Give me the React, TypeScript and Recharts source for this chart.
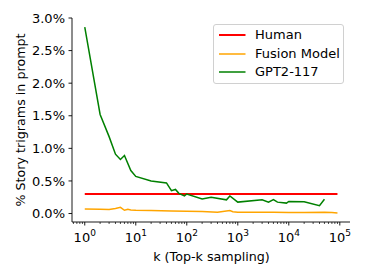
import React from 'react';
import { LineChart, Line, XAxis, YAxis, Legend, Label } from 'recharts';

// ---- data (k = top-k, values in % of story trigrams found in prompt) ----
const humanK = [1, 90000];
const humanPct = [0.3, 0.3];

const fusionK = [1, 2, 3, 4, 5, 6, 7, 8, 10, 20, 50, 100, 200, 400, 700, 800, 1000, 2000, 5000, 10000, 20000, 50000, 70000, 90000];
const fusionPct = [0.07, 0.066, 0.062, 0.078, 0.095, 0.05, 0.065, 0.055, 0.05, 0.045, 0.04, 0.035, 0.03, 0.02, 0.045, 0.028, 0.02, 0.018, 0.018, 0.017, 0.017, 0.02, 0.015, 0.008];

const gptK = [1, 2, 3, 4, 5, 6, 8, 10, 20, 40, 50, 60, 70, 90, 100, 200, 300, 600, 700, 1000, 3000, 4000, 5000, 6000, 9000, 10000, 20000, 40000, 50000];
const gptPct = [2.86, 1.52, 1.18, 0.91, 0.83, 0.89, 0.66, 0.57, 0.5, 0.47, 0.35, 0.37, 0.31, 0.27, 0.3, 0.225, 0.25, 0.21, 0.27, 0.175, 0.21, 0.175, 0.215, 0.175, 0.16, 0.185, 0.18, 0.12, 0.22];

const seriesNames = ['Human', 'Fusion Model', 'GPT2-117'];
const seriesColors = ['#ff0000', '#ffa500', '#008000'];
const seriesWidths = [2, 1.5, 1.5];

const xMajorTicks = [1, 10, 100, 1000, 10000, 100000];
const xMinorMultipliers = [2, 3, 4, 5, 6, 7, 8, 9];
const yTicks = [0, 0.5, 1, 1.5, 2, 2.5, 3];

const xDomain = [0.562, 158489];
const yDomain = [-0.13, 3.0];

const FONT = 'DejaVu Sans, sans-serif';

const xMinorTicks: number[] = [0.6, 0.7, 0.8, 0.9];
xMajorTicks.slice(0, 5).forEach((d) => xMinorMultipliers.forEach((m) => xMinorTicks.push(d * m)));
const allXTicks = [...xMajorTicks, ...xMinorTicks].sort((a, b) => a - b);

const toRows = (ks: number[], vs: number[]) => ks.map((k, i) => ({ k, v: vs[i] }));
const humanRows = toRows(humanK, humanPct);
const fusionRows = toRows(fusionK, fusionPct);
const gptRows = toRows(gptK, gptPct);

const XTick = (props: any) => {
  const { x, y, payload } = props;
  const v = payload.value;
  const lg = Math.log10(v);
  const e = Math.round(lg);
  const major = Math.abs(lg - e) < 1e-6;
  return (
    <g>
      <line x1={x} x2={x} y1={y} y2={y + (major ? 3.5 : 2)} stroke="#000" strokeWidth={major ? 0.9 : 0.7} />
      {major && (
        <text x={x} y={y + 19.5} textAnchor="middle" fontSize={13} fill="#000" fontFamily={FONT}>
          10
          <tspan dy={-5.5} fontSize={9}>{e}</tspan>
        </text>
      )}
    </g>
  );
};

const LegendBox = () => {
  return (
    <div
      style={{
        position: 'relative',
        width: 131,
        height: 60,
        boxSizing: 'border-box',
        border: '1px solid #d0d0d0',
        borderRadius: 3,
        background: 'rgba(255,255,255,0.8)',
        fontFamily: FONT,
        fontSize: 13,
        color: '#000',
      }}
    >
      {seriesNames.map((name, i) => (
        <div key={name} style={{ position: 'absolute', left: 0, top: 10 + i * 18.7 - 9, height: 18, width: 131 }}>
          <svg width={40} height={18} style={{ position: 'absolute', left: 0, top: 0 }}>
            <line x1={5} x2={31.5} y1={9} y2={9} stroke={seriesColors[i]} strokeWidth={seriesWidths[i]} />
          </svg>
          <span style={{ position: 'absolute', left: 41, top: 0, lineHeight: '18px', whiteSpace: 'nowrap' }}>{name}</span>
        </div>
      ))}
    </div>
  );
};

export default function App() {
  return (
    <div style={{ width: 361, height: 269, position: 'relative', fontFamily: FONT }}>
      <LineChart width={361} height={269} margin={{ top: 10, right: 19, bottom: 0, left: 0 }}>
        <XAxis
          dataKey="k"
          type="number"
          scale="log"
          domain={xDomain}
          allowDataOverflow
          ticks={allXTicks}
          interval={0}
          tick={<XTick />}
          tickLine={false}
          tickSize={0}
          tickMargin={0}
          height={55}
          axisLine={{ stroke: '#000', strokeWidth: 0.9 }}
        >
          <Label
            content={() => (
              <text x={203.5} y={253} textAnchor="middle" fontSize={12.7} fill="#000" fontFamily={FONT}>
                k (Top-k sampling)
              </text>
            )}
          />
        </XAxis>
        <XAxis
          xAxisId="top"
          orientation="top"
          type="number"
          scale="log"
          domain={xDomain}
          allowDataOverflow
          height={0}
          tick={false}
          tickLine={false}
          axisLine={{ stroke: '#000', strokeWidth: 0.9 }}
        />
        <YAxis
          type="number"
          domain={yDomain}
          allowDataOverflow
          ticks={yTicks}
          interval={0}
          width={64}
          tickSize={3.5}
          tickMargin={3.5}
          tickFormatter={(v: number) => `${v.toFixed(1)}%`}
          tick={{ fontSize: 13, fill: '#000', fontFamily: FONT }}
          tickLine={{ stroke: '#000', strokeWidth: 0.9 }}
          axisLine={{ stroke: '#000', strokeWidth: 0.9 }}
        >
          <Label
            content={() => (
              <text
                x={16.5}
                y={112}
                textAnchor="middle"
                fontSize={12.7}
                fill="#000"
                fontFamily={FONT}
                transform="rotate(-90, 16.5, 112)"
              >
                % Story trigrams in prompt
              </text>
            )}
          />
        </YAxis>
        <YAxis
          yAxisId="right"
          orientation="right"
          type="number"
          domain={yDomain}
          allowDataOverflow
          width={0}
          tick={false}
          tickLine={false}
          axisLine={{ stroke: '#000', strokeWidth: 0.9 }}
        />
        <Legend
          layout="vertical"
          align="center"
          verticalAlign="middle"
          content={<LegendBox />}
          wrapperStyle={{ position: 'absolute', left: 205, top: 16, width: 131, height: 60 }}
        />
        <Line data={humanRows} dataKey="v" name={seriesNames[0]} stroke={seriesColors[0]} strokeWidth={seriesWidths[0]} dot={false} isAnimationActive={false} />
        <Line data={fusionRows} dataKey="v" name={seriesNames[1]} stroke={seriesColors[1]} strokeWidth={seriesWidths[1]} dot={false} isAnimationActive={false} />
        <Line data={gptRows} dataKey="v" name={seriesNames[2]} stroke={seriesColors[2]} strokeWidth={seriesWidths[2]} dot={false} isAnimationActive={false} />
      </LineChart>
    </div>
  );
}
